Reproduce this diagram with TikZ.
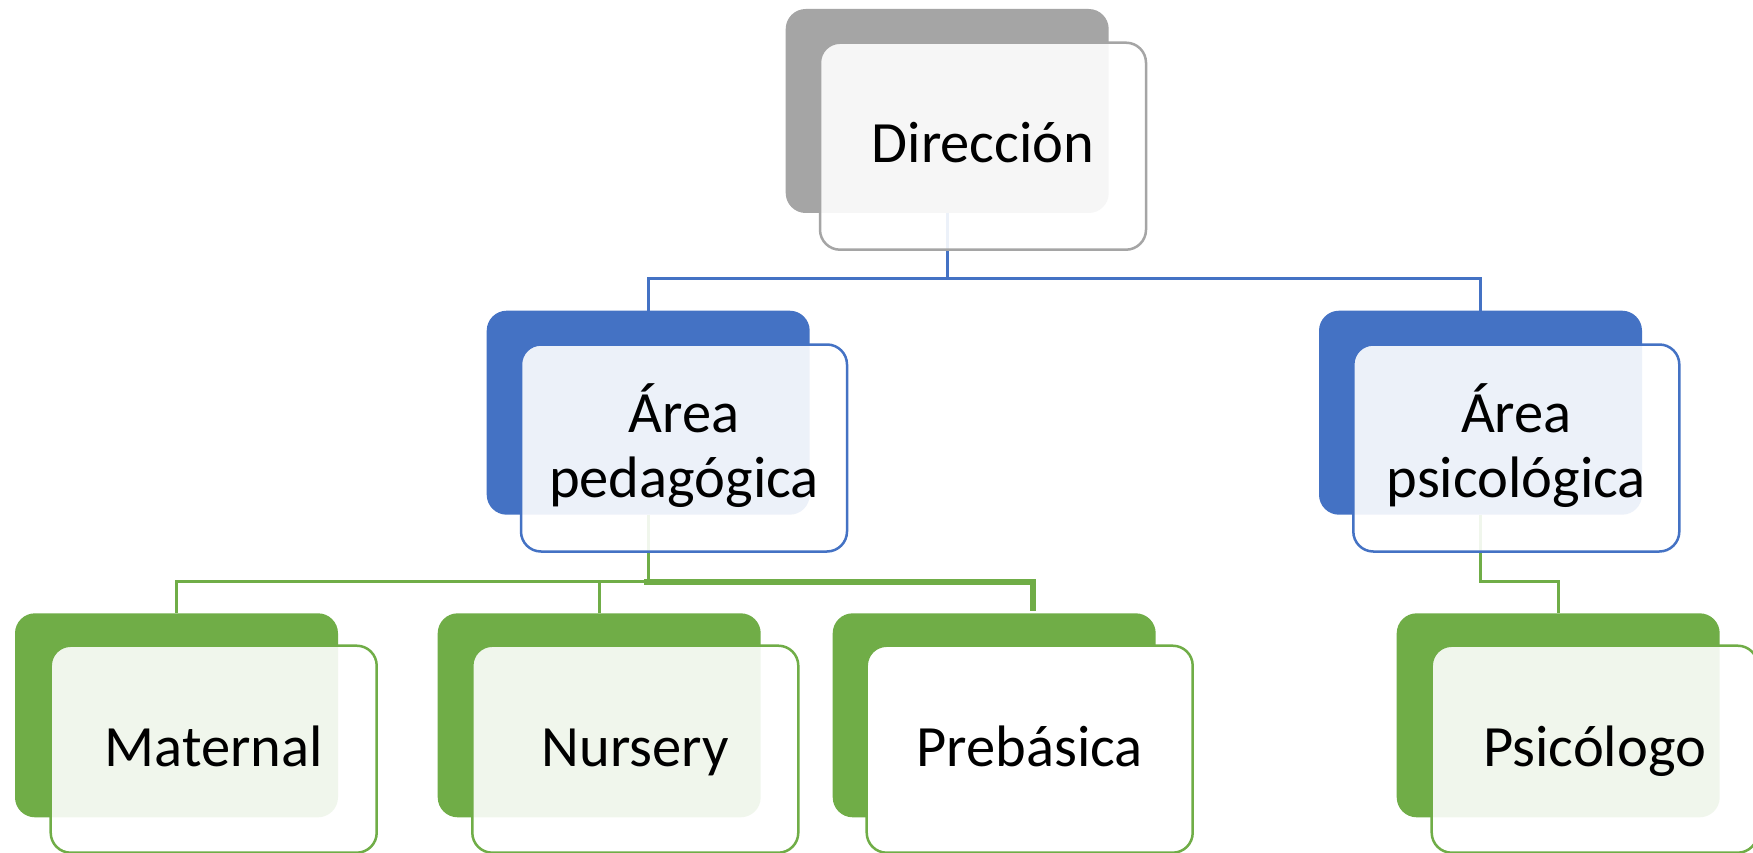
\documentclass[tikz,border=0pt]{standalone}
\usepackage{fontspec}
\setmainfont{Carlito}
\definecolor{cgray}{HTML}{A5A5A5}
\definecolor{cblue}{HTML}{4472C4}
\definecolor{cgreen}{HTML}{70AD47}
\begin{document}
\begin{tikzpicture}[x=1pt,y=-1pt,
  backbox/.style={rectangle, rounded corners=20pt, minimum width=323pt, minimum height=204pt,
    inner sep=0pt, outer sep=0pt, draw=none, anchor=north west},
  frontbox/.style={rectangle, rounded corners=20pt, minimum width=326pt, minimum height=207pt,
    inner sep=0pt, outer sep=0pt, line width=2.5pt, fill=white, fill opacity=0.9, anchor=north west},
  frontsolid/.style={frontbox, fill opacity=1},
  bigtext/.style={inner sep=0pt, anchor=base, font=\fontsize{58.5}{70}\selectfont},
  midtext/.style={inner sep=0pt, anchor=base, font=\fontsize{58.5}{64.7}\selectfont},
  blueline/.style={draw=cblue, line width=2.6pt, miter limit=10},
  greenline/.style={draw=cgreen, line width=2.6pt},
  greenthick/.style={draw=cgreen, line width=6pt}
]
\useasboundingbox[fill=white] (0,0) rectangle (1753,853);

% helper rows
\coordinate (b1) at (0,163);
\coordinate (b2) at (0,497.5);
\coordinate (b3) at (0,766.7);
\coordinate (bus1) at (0,278.5);
\coordinate (bus2) at (0,581.5);

% back boxes
\node[backbox, fill=cgray]  (dirB) at (785.7,9) {};
\node[backbox, fill=cblue]  (pedB) at (486.7,310.7) {};
\node[backbox, fill=cblue]  (psaB) at (1319,310.7) {};
\node[backbox, fill=cgreen] (matB) at (15,613.3) {};
\node[backbox, fill=cgreen] (nurB) at (437.7,613.3) {};
\node[backbox, fill=cgreen] (preB) at (832.7,613.3) {};
\node[backbox, fill=cgreen] (psiB) at (1396.7,613.3) {};

% connectors
\draw[blueline] (dirB.south) -- (dirB.south |- bus1) -| (pedB.north);
\draw[blueline] (dirB.south |- bus1) -| (psaB.north);
\draw[greenline] (pedB.south) -- (pedB.south |- bus2) -| (matB.north);
\draw[greenline] (nurB.north) -- (nurB.north |- bus2);
\draw[greenthick] ([xshift=-4pt]pedB.south |- bus2) -| ([xshift=39pt,yshift=2pt]preB.north);
\draw[greenline] (psaB.south) -- (psaB.south |- bus2) -| (psiB.north);

% front boxes
\node[frontbox, draw=cgray]  (dirF) at (820,42.7) {};
\node[frontbox, draw=cblue]  (pedF) at (521,344.5) {};
\node[frontbox, draw=cblue]  (psaF) at (1353.3,344.5) {};
\node[frontbox, draw=cgreen] (matF) at (50.7,645.7) {};
\node[frontbox, draw=cgreen] (nurF) at (472.3,645.7) {};
\node[frontsolid, draw=cgreen] (preF) at (866.7,645.7) {};
\node[frontbox, draw=cgreen] (psiF) at (1431.7,645.7) {};

% texts
\node[bigtext] (dirT) at (dirF.center |- b1) {Dirección};
\node[midtext] (pedT) at (pedF.center |- b2) {\begin{tabular}[b]{@{}c@{}}Área\\pedagógica\end{tabular}};
\node[midtext] (psaT) at (psaF.center |- b2) {\begin{tabular}[b]{@{}c@{}}Área\\psicológica\end{tabular}};
\node[bigtext] (matT) at (matF.center |- b3) {Maternal};
\node[bigtext] (nurT) at (nurF.center |- b3) {Nursery};
\node[bigtext] (preT) at (preF.center |- b3) {Prebásica};
\node[bigtext] (psiT) at (psiF.center |- b3) {Psicólogo};
\end{tikzpicture}
\end{document}
